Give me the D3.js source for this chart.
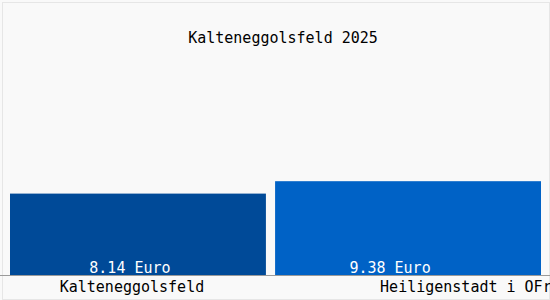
<!DOCTYPE html>
<html>
<head>
<meta charset="utf-8">
<script src="https://cdn.jsdelivr.net/npm/d3@7"></script>
<style>
  body { margin: 0; background: #f9f9f9; }
  text { font-family: "DejaVu Sans Mono", monospace; font-size: 15px; }
</style>
</head>
<body>
<div class="chart"></div>
<script>
let title = 'Kalteneggolsfeld 2025';
let places = ['Kalteneggolsfeld', 'Heiligenstadt i OFr'];
let prices = [8.14, 9.38];
let colors = ['#004a98', '#0062c6'];

let width = 550;
let height = 300;
let baseline = 275;

let svg = d3.select('.chart')
  .append('svg')
    .attr('width', width)
    .attr('height', height);

svg.append('rect')
  .attr('x', 2.5)
  .attr('y', 2.5)
  .attr('width', width - 3)
  .attr('height', height - 3)
  .style('fill', '#f9f9f9')
  .style('stroke', '#e6e6e6');

let xScale = d3.scaleBand()
  .domain(places)
  .range([10, 541])
  .paddingInner(0.034);

// the source draws the first bar a bit narrower than the second
let barLeft = d => xScale(d) - (d === places[1] ? 5 : 0);
let barWidth = d => xScale.bandwidth() + (d === places[1] ? 5 : -5);

let yScale = d3.scaleLinear()
  .domain([0, 25])
  .range([baseline, 25]);

svg.append('text')
  .attr('x', width / 2 + 8)
  .attr('y', 43)
  .attr('text-anchor', 'middle')
  .style('fill', '#000')
  .text(title);

svg.selectAll('.bar')
  .data(places)
  .enter().append('rect')
    .attr('class', 'bar')
    .attr('x', barLeft)
    .attr('y', (d, i) => yScale(prices[i]))
    .attr('width', barWidth)
    .attr('height', (d, i) => baseline - yScale(prices[i]))
    .style('fill', (d, i) => colors[i]);

svg.selectAll('.value')
  .data(places)
  .enter().append('text')
    .attr('class', 'value')
    .attr('x', (d, i) => barLeft(d) + barWidth(d) / 2 - 8 - 10 * i)
    .attr('y', baseline - 2)
    .attr('text-anchor', 'middle')
    .style('fill', '#fff')
    .text((d, i) => prices[i].toFixed(2) + ' Euro');

svg.append('line')
  .attr('x1', 0)
  .attr('x2', width)
  .attr('y1', baseline + 0.5)
  .attr('y2', baseline + 0.5)
  .style('stroke', '#9a9a9a');

// first label centred, second one starts inside its band and runs to the edge
svg.selectAll('.label')
  .data(places)
  .enter().append('text')
    .attr('class', 'label')
    .attr('x', (d, i) => i === 0
      ? barLeft(d) + barWidth(d) / 2 - 6
      : barLeft(d) + 105)
    .attr('y', baseline + 17)
    .attr('text-anchor', (d, i) => i === 0 ? 'middle' : 'start')
    .style('fill', '#000')
    .text(d => d);
</script>
</body>
</html>
